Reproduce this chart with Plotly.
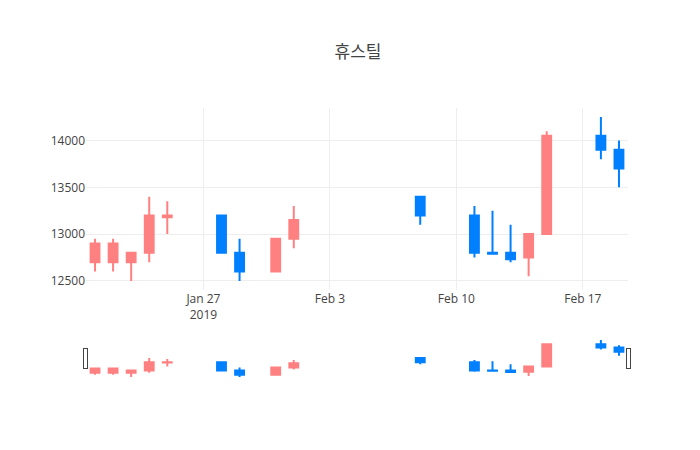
import plotly.graph_objects as go

dates = ["2019-01-21","2019-01-22","2019-01-23","2019-01-24","2019-01-25","2019-01-28","2019-01-29",
         "2019-01-31","2019-02-01","2019-02-08","2019-02-11","2019-02-12","2019-02-13","2019-02-14",
         "2019-02-15","2019-02-18","2019-02-19"]
opens  = [12700,12700,12700,12800,13180,13200,12800,12600,12950,13400,13200,12800,12800,12750,13000,14050,13900]
highs  = [12950,12950,12800,13400,13350,13200,12950,12950,13300,13400,13300,13250,13100,13000,14100,14250,14000]
lows   = [12600,12600,12500,12700,13000,12800,12500,12600,12850,13100,12750,12790,12700,12550,13000,13800,13500]
closes = [12900,12900,12800,13200,13200,12800,12600,12950,13150,13200,12800,12790,12730,13000,14050,13900,13700]

fig = go.Figure(go.Candlestick(
    x=dates, open=opens, high=highs, low=lows, close=closes,
    increasing=dict(line=dict(color="#FF8080"), fillcolor="#FF8080"),
    decreasing=dict(line=dict(color="#0080FF"), fillcolor="#0080FF"),
))
fig.update_layout(
    title=dict(text="휴스틸", x=0.5, font=dict(size=17)),
    width=700, height=450,
    margin=dict(l=78, r=80, t=100, b=80),
    font=dict(family="Open Sans, Noto Sans CJK KR", color="#444"),
    plot_bgcolor="white",
    showlegend=False,
    xaxis=dict(rangeslider=dict(visible=True), gridcolor="#eee"),
    yaxis=dict(gridcolor="#eee", tickformat="d"),
)
fig.write_html("out.html")
